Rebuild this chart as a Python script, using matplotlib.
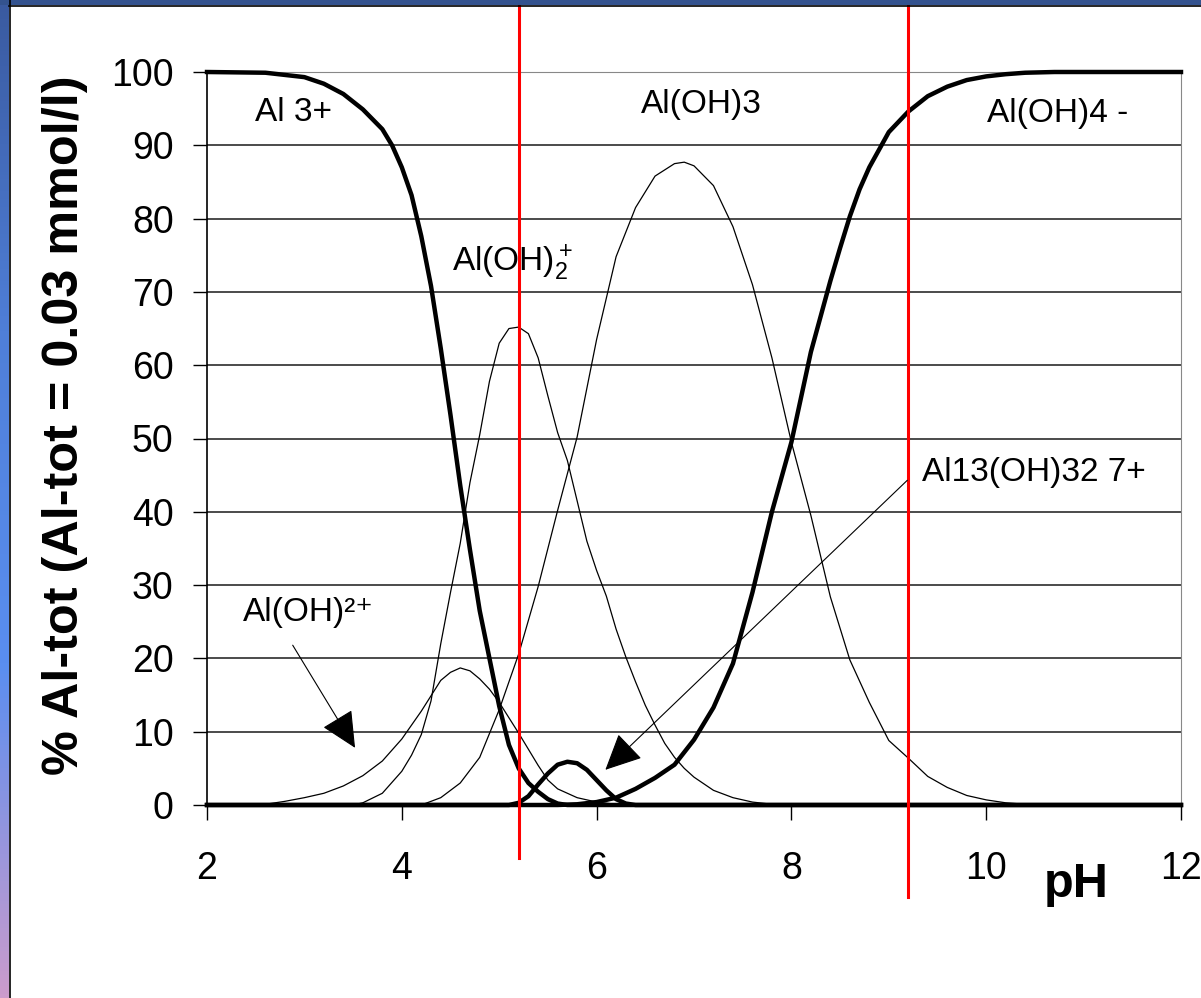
import numpy as np
import matplotlib
matplotlib.use("Agg")
import matplotlib.pyplot as plt
from matplotlib.colors import LinearSegmentedColormap

plt.rcParams['font.family'] = ['Liberation Sans', 'DejaVu Sans']
plt.rcParams['mathtext.fontset'] = 'custom'
plt.rcParams['mathtext.rm'] = 'Liberation Sans'
plt.rcParams['mathtext.it'] = 'Liberation Sans'

# species distribution (% of Al-tot vs pH)
al3_ph = [2.0, 2.6, 3.0, 3.2, 3.4, 3.6, 3.8, 3.9, 4.0, 4.1, 4.2, 4.3, 4.4, 4.5,
          4.6, 4.7, 4.8, 4.9, 5.0, 5.1, 5.2, 5.3, 5.4, 5.5, 5.6, 5.7, 12.0]
al3 = [100, 99.9, 99.3, 98.4, 97.0, 94.9, 92.2, 90.0, 87.0, 83.2, 77.6, 70.8, 62.3, 53.2,
       43.6, 34.8, 26.5, 20.0, 13.5, 8.2, 5.0, 3.0, 1.8, 0.8, 0.2, 0, 0]

aloh_ph = [2.0, 2.6, 2.8, 3.0, 3.2, 3.4, 3.6, 3.8, 4.0, 4.1, 4.2, 4.3, 4.4, 4.5, 4.6,
           4.7, 4.8, 4.9, 5.0, 5.1, 5.2, 5.3, 5.4, 5.5, 5.6, 5.8, 6.0, 6.2, 12.0]
aloh = [0, 0.1, 0.5, 1.0, 1.6, 2.6, 4.0, 6.0, 9.0, 10.9, 12.8, 14.9, 17.0, 18.1, 18.7,
        18.3, 17.2, 15.8, 14.0, 11.9, 9.8, 7.6, 5.4, 3.4, 2.2, 1.0, 0.4, 0.1, 0]

aloh2_ph = [2.0, 3.5, 3.6, 3.8, 4.0, 4.1, 4.2, 4.3, 4.4, 4.5, 4.6, 4.7, 4.8, 4.9, 5.0,
            5.1, 5.2, 5.3, 5.4, 5.5, 5.6, 5.7, 5.8, 5.9, 6.0, 6.1, 6.2, 6.3, 6.4, 6.5,
            6.6, 6.7, 6.8, 6.9, 7.0, 7.2, 7.4, 7.6, 7.8, 12.0]
aloh2 = [0, 0, 0.3, 1.6, 4.6, 6.8, 9.6, 14.2, 22.0, 29.0, 35.7, 44.0, 50.5, 57.8, 63.0,
         65.0, 65.2, 64.3, 61.0, 55.8, 50.8, 47.0, 41.5, 36.0, 32.0, 28.5, 24.0, 20.2, 16.8, 13.6,
         10.9, 8.4, 6.5, 5.0, 3.8, 2.0, 1.0, 0.4, 0.1, 0]

aloh3_ph = [2.0, 4.2, 4.4, 4.6, 4.8, 5.0, 5.2, 5.4, 5.6, 5.8, 6.0, 6.2, 6.4, 6.6, 6.8,
            6.9, 7.0, 7.2, 7.4, 7.6, 7.8, 8.0, 8.2, 8.4, 8.6, 8.8, 9.0, 9.2, 9.4, 9.6,
            9.8, 10.0, 10.2, 10.4, 12.0]
aloh3 = [0, 0, 1.0, 3.0, 6.5, 13.0, 20.6, 29.8, 40.2, 50.2, 63.5, 74.8, 81.5, 85.8, 87.5,
         87.7, 87.2, 84.5, 78.9, 71.0, 61.0, 49.5, 39.5, 28.4, 19.8, 14.0, 8.8, 6.4, 3.9, 2.4,
         1.3, 0.7, 0.3, 0.1, 0]

al13_ph = [2.0, 5.1, 5.2, 5.3, 5.4, 5.5, 5.6, 5.7, 5.8, 5.9, 6.0, 6.1, 6.2, 6.3, 6.4, 12.0]
al13 = [0, 0, 0.3, 1.2, 2.8, 4.3, 5.5, 5.9, 5.7, 4.8, 3.4, 2.0, 0.8, 0.2, 0, 0]

aloh4_ph = [2.0, 5.6, 5.8, 6.0, 6.2, 6.4, 6.6, 6.8, 7.0, 7.2, 7.4, 7.6, 7.8, 8.0, 8.2,
            8.4, 8.5, 8.6, 8.7, 8.8, 9.0, 9.2, 9.4, 9.6, 9.8, 10.0, 10.2, 10.4, 10.7, 12.0]
aloh4 = [0, 0, 0.1, 0.4, 1.0, 2.2, 3.7, 5.5, 8.9, 13.3, 19.3, 29.0, 40.0, 49.5, 61.8,
         71.5, 76.0, 80.3, 84.0, 87.0, 91.8, 94.6, 96.7, 98.0, 98.9, 99.4, 99.7, 99.9, 100, 100]

red_ph = [5.2, 9.2]

fig = plt.figure(figsize=(12.01, 9.98), dpi=100, facecolor='white')
ax = fig.add_axes([207/1201, 193/998, 974/1201, 733/998])

ax.yaxis.grid(True, color='#1a1a1a', lw=1.1, zorder=0)
ax.set_axisbelow(True)

thin = dict(color='black', lw=0.9, clip_on=False, zorder=3)
thick = dict(color='black', lw=3.2, clip_on=False, zorder=4)
ax.plot(aloh_ph, aloh, **thin)
ax.plot(aloh2_ph, aloh2, **thin)
ax.plot(aloh3_ph, aloh3, **thin)
ax.plot(al3_ph, al3, **thick)
ax.plot(al13_ph, al13, **thick)
ax.plot(aloh4_ph, aloh4, **thick)

# red pH markers, run past the plot area like in the slide
ax.axvline(red_ph[0], ymin=-0.072, ymax=1.12, color='red', lw=2.2, clip_on=False, zorder=6)
ax.axvline(red_ph[1], ymin=-0.125, ymax=1.12, color='red', lw=2.2, clip_on=False, zorder=6)

ax.set_xlim(2, 12)
ax.set_ylim(0, 100)
ax.set_xticks(range(2, 13, 2))
ax.set_yticks(range(0, 101, 10))
ax.tick_params(axis='y', direction='out', length=10, width=1, labelsize=27, pad=14)
ax.tick_params(axis='x', direction='out', length=11, width=1, labelsize=27, pad=22)

ax.spines['left'].set_linewidth(1.2)
ax.spines['bottom'].set_linewidth(1.6)
ax.spines['right'].set_color('#888888')
ax.spines['top'].set_color('#888888')

ax.text(-0.146, 0.518, '% Al-tot (Al-tot = 0.03 mmol/l)', transform=ax.transAxes,
        rotation=90, ha='center', va='center', fontsize=36.3, fontweight='bold')
ax.text(0.892, -0.109, 'pH', transform=ax.transAxes, ha='center', va='center',
        fontsize=35, fontweight='bold')

lab = dict(fontsize=24, va='center', ha='left', zorder=7)
ax.text(2.49, 94.5, 'Al 3+', **lab)
ax.text(6.46, 95.5, 'Al(OH)3', **lab)
ax.text(10.01, 94.4, 'Al(OH)4 -', **lab)
ax.text(4.52, 74.0, r'Al(OH)$_2^+$', **lab)
ax.text(2.37, 26.2, 'Al(OH)²⁺', **lab)
ax.text(9.34, 45.3, 'Al13(OH)32 7+', **lab)

arrow = dict(arrowstyle='-|>,head_length=1.15,head_width=0.55', color='black', lw=0.8,
             shrinkA=0, shrinkB=0, mutation_scale=20)
ax.annotate('', xy=(3.52, 7.8), xytext=(2.88, 21.8), arrowprops=arrow, zorder=7)
ax.annotate('', xy=(6.09, 4.8), xytext=(9.19, 44.3), arrowprops=arrow, zorder=7)

# slide frame: dark band on top, gradient band on the left
cmap = LinearSegmentedColormap.from_list('frame', ['#3a5aa0', '#4f7fd8', '#5a8ef0', '#cc9ccc'])
left = fig.add_axes([0, 0, 9/1201, 1])
left.imshow(np.linspace(0, 1, 256).reshape(-1, 1), aspect='auto', cmap=cmap,
            extent=[0, 1, 0, 1], origin='upper')
left.axis('off')
fig.add_artist(plt.Line2D([9.5/1201, 9.5/1201], [0, 1], color='black', lw=1.2))
top = fig.add_axes([0, 1 - 5/998, 1, 5/998])
top.set_facecolor('#34538f')
top.set_xticks([])
top.set_yticks([])
for s in top.spines.values():
    s.set_visible(False)
fig.add_artist(plt.Line2D([9/1201, 1], [1 - 5.5/998, 1 - 5.5/998], color='black', lw=1.2))

fig.savefig('out.png', dpi=100, facecolor='white')
